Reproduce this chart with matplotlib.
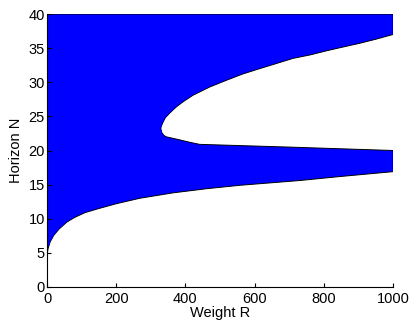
import numpy as np
import matplotlib.pyplot as plt

plt.rcParams['font.family'] = ['Liberation Sans', 'DejaVu Sans']

# lower boundary of the feasible region (N as function of R)
low_r = [0, 1, 3, 9, 20, 35, 57, 80, 110, 150, 200, 268, 365, 461, 557, 730, 850, 1000]
low_n = [4.0, 5.0, 5.6, 6.6, 7.6, 8.5, 9.5, 10.2, 10.9, 11.5, 12.2, 13.0, 13.8, 14.4, 14.9, 15.6, 16.2, 16.9]

# upper branch of the excluded pocket (right to left)
up_r = [1000, 950, 903, 850, 807, 760, 711, 660, 615, 565, 519, 470, 422, 395, 374, 355, 342, 334, 330, 329]
up_n = [37.0, 36.3, 35.7, 35.1, 34.6, 34.0, 33.5, 32.7, 32.0, 31.2, 30.3, 29.3, 28.1, 27.2, 26.4, 25.5, 24.8, 24.0, 23.5, 23.2]

# lower branch of the excluded pocket (left to right)
mid_r = [332, 338, 345, 380, 413, 441, 700, 1000]
mid_n = [22.6, 22.2, 22.0, 21.6, 21.2, 20.9, 20.5, 20.0]

top_n = 40

xs = [0, 1000] + up_r + mid_r + low_r[::-1]
ys = [top_n, top_n] + up_n + mid_n + low_n[::-1]

fig = plt.figure(figsize=(4.11, 3.21), dpi=100)
ax = fig.add_axes([47 / 411, 34 / 321, 346 / 411, 273 / 321])
ax.fill(xs, ys, facecolor='#0000ff', edgecolor='k', linewidth=0.7)

ax.set_xlim(0, 1000)
ax.set_ylim(0, 40)
ax.set_xticks(np.arange(0, 1001, 200))
ax.set_yticks(np.arange(0, 41, 5))
ax.spines['top'].set_visible(False)
ax.spines['right'].set_visible(False)
ax.tick_params(direction='in', length=3, labelsize=10.5)
ax.tick_params(axis='x', pad=3.5)
ax.tick_params(axis='y', pad=1.5)
ax.set_xlabel('Weight R', fontsize=10.5, labelpad=0)
ax.set_ylabel('Horizon N', fontsize=10.5, labelpad=4)

fig.savefig('out.png', dpi=100)
